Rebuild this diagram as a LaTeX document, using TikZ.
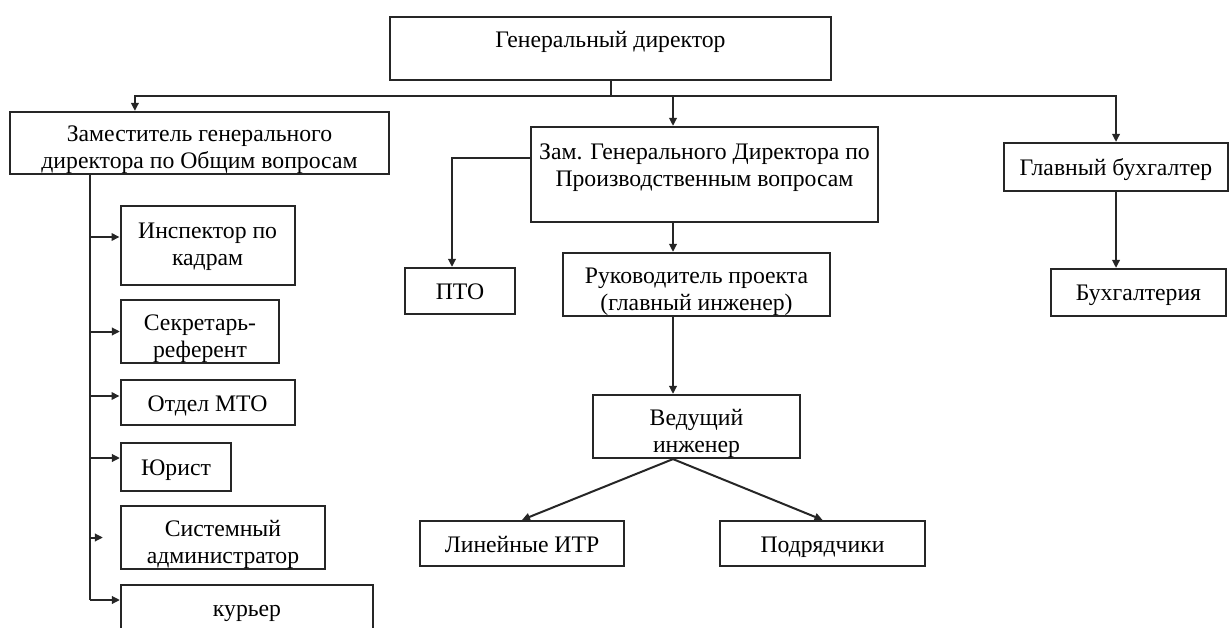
\documentclass[tikz,border=0pt]{standalone}
\usepackage{fontspec}
\setmainfont{Liberation Serif}
\usetikzlibrary{arrows.meta}

\tikzset{
  unit/.style={draw=black!85, line width=2.2pt, align=center, inner sep=2pt,
    font=\fontsize{23.7}{27}\selectfont},
  single/.style={text height=21pt, text depth=4pt},
  double/.style={text height=52pt, text depth=0pt},
  link/.style={->, line width=2pt, draw=black!85},
}

\begin{document}
\begin{tikzpicture}[x=1pt, y=-1pt, >={Triangle[length=8pt,width=7.5pt]}]
\clip (0,0) rectangle (1231,628);

\node[unit, minimum width=441pt, minimum height=63pt, text height=21pt, text depth=23pt] (gd)
 at (610.5,48.5) {Генеральный директор};

\node[unit, double, minimum width=379pt, minimum height=62pt] (zam1)
 at (199.5,143) {Заместитель генерального\\директора по Общим вопросам};
\node[unit, double, minimum width=347pt, minimum height=95pt, text depth=28pt] (zam2)
 at (704.5,174.5) {Зам. Генерального Директора по\\Производственным вопросам};
\node[unit, single, minimum width=224pt, minimum height=48pt] (gb)
 at (1116,167) {Главный бухгалтер};
\node[unit, single, minimum width=175pt, minimum height=47pt] (bukh)
 at (1138.5,292.5) {Бухгалтерия};

\node[unit, single, minimum width=110pt, minimum height=46pt] (pto)
 at (460,291) {ПТО};
\node[unit, double, minimum width=267pt, minimum height=63pt] (ruk)
 at (696.5,284.5) {Руководитель проекта\\(главный инженер)};
\node[unit, double, minimum width=207pt, minimum height=63pt] (ved)
 at (696.5,426.5) {Ведущий\\инженер};
\node[unit, single, minimum width=204pt, minimum height=45pt] (lin)
 at (522,543.5) {Линейные ИТР};
\node[unit, single, minimum width=205pt, minimum height=45pt] (podr)
 at (822.5,543.5) {Подрядчики};

\node[unit, double, minimum width=174pt, minimum height=79pt, text depth=12pt] (insp)
 at (207.6,245.5) {Инспектор по\\кадрам};
\node[unit, double, minimum width=158pt, minimum height=63pt] (sec)
 at (200,331.5) {Секретарь-\\референт};
\node[unit, single, minimum width=174pt, minimum height=45pt] (mto)
 at (207.6,402.5) {Отдел МТО};
\node[unit, single, minimum width=110pt, minimum height=48pt] (yur)
 at (176,467) {Юрист};
\node[unit, double, minimum width=204pt, minimum height=63pt] (sys)
 at (223,537.5) {Системный\\администратор};
\node[unit, single, minimum width=252pt, minimum height=46pt] (kur)
 at (247,608) {курьер};

\coordinate (bus) at (610,96);
\coordinate (col) at (673,0);
\coordinate (trunk) at (90,0);

\draw[line width=2pt, draw=black!85] (gd.south) -- (gd.south |- bus);
\draw[link] (gd.south |- bus) -| ([xshift=126pt]zam1.north west);
\draw[link] (gd.south |- bus) -| (col |- zam2.north);
\draw[link] (gd.south |- bus) -| (gb.north);
\draw[link] (gb.south) -- (gb.south |- bukh.north);

\draw[link] ([yshift=16.5pt]zam2.west) -| ([xshift=-8pt]pto.north);
\draw[link] (col |- zam2.south) -- (col |- ruk.north);
\draw[link] (col |- ruk.south) -- (col |- ved.north);
\draw[link] (col |- ved.south) -- (lin.north);
\draw[link] (col |- ved.south) -- (podr.north);

\draw[line width=2pt, draw=black!85] (trunk |- zam1.south) -- ([yshift=8pt]kur.west -| trunk);
\foreach \n/\dy/\gap in {insp/8.5/0, sec/0/0, mto/6.5/0, yur/9/0, sys/0/17, kur/8/0}
  \draw[link, shorten >=\gap pt] ([yshift=\dy pt]\n.west -| trunk) -- ([yshift=\dy pt]\n.west);
\end{tikzpicture}
\end{document}
